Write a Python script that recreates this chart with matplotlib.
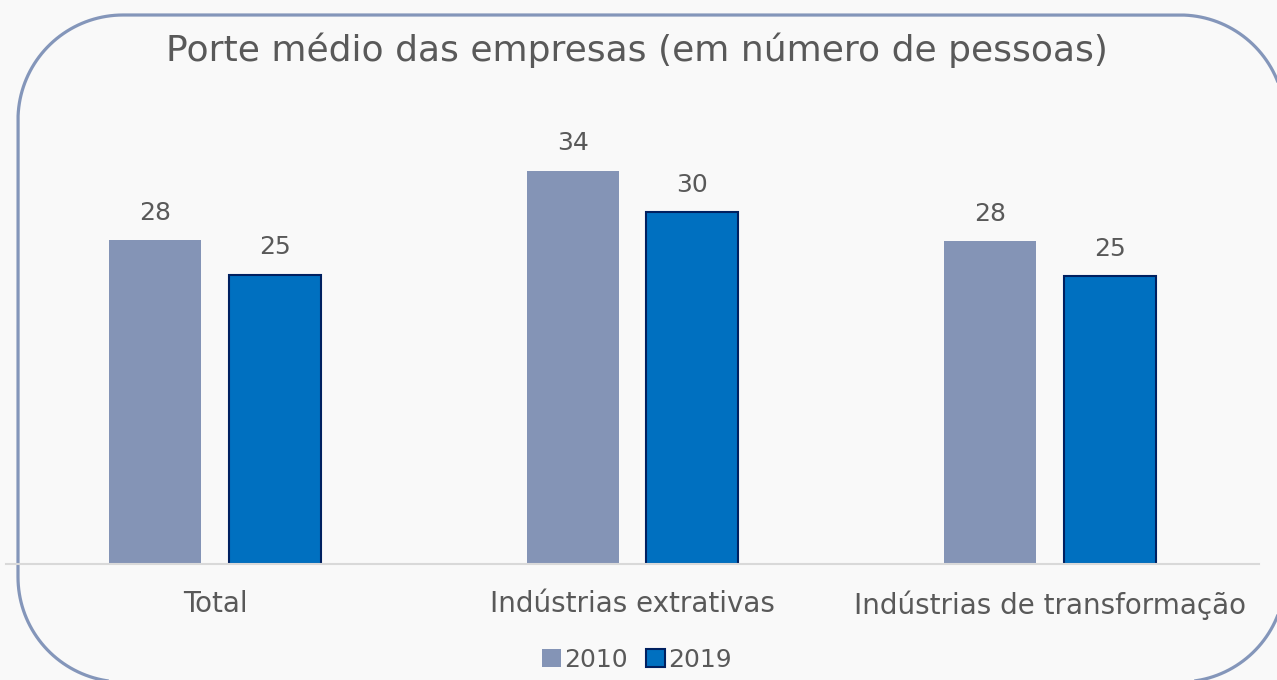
import matplotlib.pyplot as plt
from matplotlib.patches import Patch
import numpy as np

categories = ['Total', 'Indústrias extrativas', 'Indústrias de transformação']
years = ['2010', '2019']
values_2010 = [28.0, 34.0, 27.9]
values_2019 = [25.0, 30.4, 24.9]

TEXT = '#595959'
C2010 = '#8494B6'
C2019 = '#0070C0'
EDGE2019 = '#002060'
BORDER = '#8496BA'

W, H = 1277, 680
fig = plt.figure(figsize=(W / 100, H / 100), dpi=100, facecolor='#F9F9F9')
plt.rcParams['font.family'] = ['DejaVu Sans']

# rounded border, drawn on an overlay axes in pixel units (y down)
bg = fig.add_axes((0, 0, 1, 1))
bg.set_xlim(0, W)
bg.set_ylim(H, 0)
bg.set_axis_off()
x0, y0, x1, y1, r = 18, 15, 1285, 682, 105
t = np.linspace(0, np.pi / 2, 40)
px = np.concatenate([[640], x1 - r + r * np.sin(t), x1 - r + r * np.cos(t),
                     x0 + r - r * np.sin(t), x0 + r - r * np.cos(t), [640]])
py = np.concatenate([[y0], y0 + r - r * np.cos(t), y1 - r + r * np.sin(t),
                     y1 - r + r * np.cos(t), y0 + r - r * np.sin(t), [y0]])
bg.plot(px, py, color=BORDER, lw=2.3, solid_capstyle='butt',
        solid_joinstyle='round', clip_on=False)

# chart axes placed in pixel terms: baseline at y=564, categories from x=6 to 1259
left, right = 6.25, 1258.75
base = 564
px_per_unit = 11.57
ymax = 40
ax = fig.add_axes((left / W, (H - base) / H, (right - left) / W, ymax * px_per_unit / H))
ax.set_facecolor('none')

x = np.arange(len(categories))
bw = 0.22
off = 0.143
b1 = ax.bar(x - off, values_2010, bw, color=C2010, linewidth=0)
b2 = ax.bar(x + off, values_2019, bw, color=C2019, edgecolor=EDGE2019, linewidth=1.5)

fmt = lambda v: f'{v:.0f}'
ax.bar_label(b1, labels=[fmt(v) for v in values_2010], padding=11, fontsize=18, color=TEXT)
ax.bar_label(b2, labels=[fmt(v) for v in values_2019], padding=11, fontsize=18, color=TEXT)

ax.set_xlim(-0.5, len(categories) - 0.5)
ax.set_ylim(0, ymax)
ax.set_xticks(x, categories, fontsize=20, color=TEXT)
ax.tick_params(axis='x', length=0, pad=19)
ax.set_yticks([])
for s in ['top', 'right', 'left']:
    ax.spines[s].set_visible(False)
ax.spines['bottom'].set_color('#D9D9D9')
ax.spines['bottom'].set_linewidth(1.5)

fig.text(637 / W, 1 - 50 / H, 'Porte médio das empresas (em número de pessoas)',
         ha='center', va='center', fontsize=26, color=TEXT)

handles = [Patch(facecolor=C2010, linewidth=0),
           Patch(facecolor=C2019, edgecolor=EDGE2019, linewidth=1.5)]
fig.legend(handles, years, loc='center', bbox_to_anchor=(637 / W, 1 - 660 / H),
           ncol=2, frameon=False, fontsize=18, labelcolor=TEXT,
           handlelength=0.75, handleheight=0.75, handletextpad=0.15, columnspacing=0.7)

fig.savefig('out.png', dpi=100, facecolor=fig.get_facecolor())
